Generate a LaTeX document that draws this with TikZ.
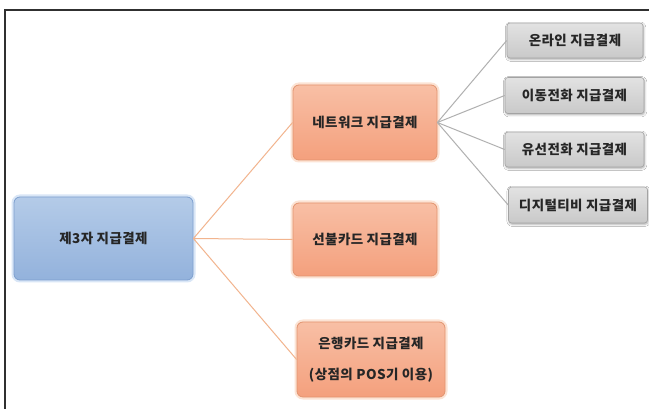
\documentclass[tikz,border=0pt]{standalone}
\usepackage{fontspec}
\setmainfont{Noto Sans CJK KR}[LetterSpace=3.0]
\usetikzlibrary{shadows.blur}
\definecolor{bluetop}{HTML}{B4CBE8}
\definecolor{bluebot}{HTML}{93B2DC}
\definecolor{blueedge}{HTML}{7D9FCF}
\definecolor{blueglow}{HTML}{C9DCF3}
\definecolor{ortop}{HTML}{F8BFA5}
\definecolor{orbot}{HTML}{F4A07D}
\definecolor{oredge}{HTML}{E2946F}
\definecolor{orglow}{HTML}{FBD8C3}
\definecolor{grtop}{HTML}{E2E2E2}
\definecolor{grbot}{HTML}{C9C9C9}
\definecolor{gredge}{HTML}{A3A3A3}
\definecolor{orline}{HTML}{F2B48E}
\definecolor{grline}{HTML}{B0B0B0}
\definecolor{frame}{HTML}{303030}
\tikzset{
  every node/.style={font=\bfseries\fontsize{13.5}{16}\selectfont, text=black!85, align=center, inner sep=0pt},
  bluebox/.style={rectangle, rounded corners=6pt, draw=blueedge, line width=0.8pt,
     top color=bluetop, bottom color=bluebot,
     preaction={draw=blueglow, line width=5pt, opacity=0.7}},
  orbox/.style={rectangle, rounded corners=6pt, draw=oredge, line width=0.8pt,
     top color=ortop, bottom color=orbot,
     preaction={draw=orglow, line width=5pt, opacity=0.7}},
  grbox/.style={rectangle, rounded corners=3pt, draw=gredge, line width=0.6pt,
     top color=grtop, bottom color=grbot,
     blur shadow={shadow xshift=0.6pt, shadow yshift=-1.2pt, shadow blur steps=4, shadow opacity=35}},
  orconn/.style={draw=orline, line width=1pt},
  grconn/.style={draw=grline, line width=1pt},
}
\begin{document}
\begin{tikzpicture}[x=1pt,y=-1pt]
\useasboundingbox (0,0) rectangle (649,409);
\fill[white] (0,0) rectangle (649,409);
\draw[frame, line width=1.2pt] (5,409) -- (5,10) -- (649,10);

\node[bluebox, minimum width=179pt, minimum height=83pt] (root) at (103.5,238.5) {제3자 지급결제};
\node[orbox, minimum width=144pt, minimum height=75pt] (net) at (365,122.5) {네트워크 지급결제};
\node[orbox, minimum width=144pt, minimum height=73pt] (pre) at (365,239.5) {선불카드 지급결제};
\node[orbox, minimum width=148pt, minimum height=75pt] (bank) at (371,359.5) {은행카드 지급결제\\[15pt](상점의 POS기 이용)};

\node[grbox, minimum width=136pt, minimum height=35pt] (g1) at (575,40.5) {온라인 지급결제};
\node[grbox, minimum width=139pt, minimum height=36pt] (g2) at (574.5,95.5) {이동전화 지급결제};
\node[grbox, minimum width=139pt, minimum height=35pt] (g3) at (574.5,149.5) {유선전화 지급결제};
\node[grbox, minimum width=139pt, minimum height=36pt] (g4) at (578,205) {디지털티비 지급결제};

\draw[orconn] (root.east) -- (net.west);
\draw[orconn] (root.east) -- (pre.west);
\draw[orconn] (root.east) -- (bank.west);
\draw[grconn] (net.east) -- (g1.west);
\draw[grconn] (net.east) -- (g2.west);
\draw[grconn] (net.east) -- (g3.west);
\draw[grconn] (net.east) -- (g4.west);
\end{tikzpicture}
\end{document}
